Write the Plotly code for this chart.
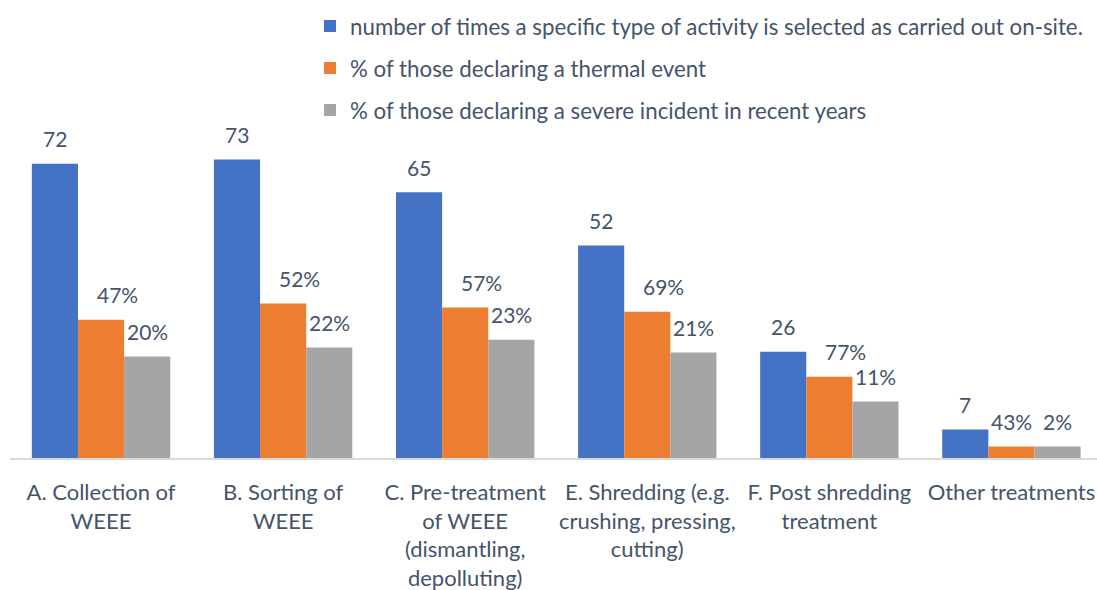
import plotly.graph_objects as go

categories = [
    "A. Collection of<br>WEEE",
    "B. Sorting of<br>WEEE",
    "C. Pre-treatment<br>of WEEE<br>(dismantling,<br>depolluting)",
    "E. Shredding (e.g.<br>crushing, pressing,<br>cutting)",
    "F. Post shredding<br>treatment",
    "Other treatments",
]
series_names = [
    "number of times a specific type of activity is selected as carried out on-site.",
    "% of those declaring a thermal event",
    "% of those declaring a severe incident in recent years",
]
# bar heights
count_values = [72, 73, 65, 52, 26, 7]
thermal_heights = [33.8, 37.8, 36.8, 35.8, 19.9, 2.8]
severe_heights = [24.8, 27.0, 28.9, 25.8, 13.8, 2.8]
# data labels
count_labels = ["72", "73", "65", "52", "26", "7"]
thermal_labels = ["47%", "52%", "57%", "69%", "77%", "43%"]
severe_labels = ["20%", "22%", "23%", "21%", "11%", "2%"]

colors = ["#4472C4", "#ED7D31", "#A5A5A5"]
text_color = "#44546A"
FONT = "Lato"
FS = 22
FS_LEGEND = 22.3
FS_LABEL = 21

fig = go.Figure()
for i, (name, vals) in enumerate(zip(series_names, [count_values, thermal_heights, severe_heights])):
    fig.add_trace(go.Bar(
        x=categories, y=vals, name=name, legendgroup=f"g{i}",
        marker=dict(color=colors[i], line=dict(width=0)),
        hoverinfo="skip",
    ))

bar_px = 46
series_shift = [-bar_px, 0, bar_px]
orange_extra = [16, 16, 16, 16, 16, 0]
annotations = []
for i, (vals, labs) in enumerate(zip([count_values, thermal_heights, severe_heights],
                                     [count_labels, thermal_labels, severe_labels])):
    for j, (c, v, t) in enumerate(zip(categories, vals, labs)):
        dx = series_shift[i] + (orange_extra[j] if i == 1 else 0)
        annotations.append(dict(
            x=c, y=v, text=t, showarrow=False, xref="x", yref="y",
            xshift=dx, yshift=25, yanchor="middle", xanchor="center",
            font=dict(family=FONT, size=FS_LABEL, color=text_color),
        ))

fig.update_layout(
    width=1097, height=590,
    margin=dict(l=10, r=0, t=5, b=132, autoexpand=False),
    paper_bgcolor="white", plot_bgcolor="white",
    barmode="group", bargap=0.24, bargroupgap=0,
    font=dict(family=FONT, size=FS, color=text_color),
    legend=dict(
        orientation="v", x=0.276, xanchor="left", y=1.0, yanchor="top",
        font=dict(family=FONT, size=FS_LEGEND, color=text_color),
        tracegroupgap=10, bgcolor="rgba(0,0,0,0)",
    ),
    xaxis=dict(
        type="category", range=[-0.5, 5.47], showgrid=False,
        showline=True, linecolor="#D9D9D9", linewidth=1.5,
        ticks="", ticklabelstandoff=14,
        tickfont=dict(family=FONT, size=FS, color=text_color),
        fixedrange=True, automargin=False,
    ),
    yaxis=dict(range=[0, 110.8], visible=False, fixedrange=True),
    annotations=annotations,
    showlegend=True,
)

fig.write_html(
    "out.html",
    config={"displayModeBar": False},
    post_script="document.body.style.margin='0';document.body.style.overflow='hidden';",
)
